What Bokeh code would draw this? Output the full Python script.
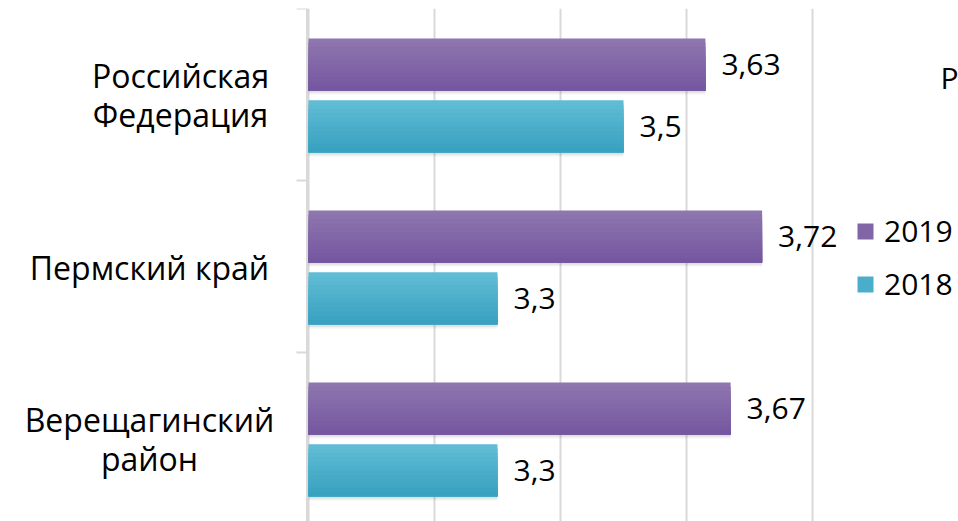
from bokeh.plotting import figure
from bokeh.models import (Range1d, FixedTicker, Legend, LegendItem,
                          ColumnDataSource, Span)
from bokeh.transform import dodge
from bokeh.core.properties import value
from bokeh.embed import file_html
from bokeh.resources import INLINE

# ---- data ----
categories = ["Российская\nФедерация", "Пермский край", "Верещагинский\nрайон"]
values_2019 = [3.63, 3.72, 3.67]
values_2018 = [3.5, 3.3, 3.3]
value_labels_2019 = ["3,63", "3,72", "3,67"]
value_labels_2018 = ["3,5", "3,3", "3,3"]
series_names = ["2019", "2018"]
x_ticks = [3.0, 3.2, 3.4, 3.6, 3.8]
extra_text = "Р"

FONT = "Open Sans"
PURPLE_TOP, PURPLE_BOTTOM = (142, 118, 175), (117, 87, 160)
BLUE_TOP, BLUE_BOTTOM = (96, 188, 213), (56, 162, 192)
GRID = "#D9D9D9"

W, H = 958, 521
axis_px = 308          # pixel position of the value axis origin
top_border = 8
band_px = 172.0
px_per_unit = 630.0
frame_h = H - top_border
x0 = x_ticks[0]


def px_to_x(px):
    return x0 + (px - axis_px) / px_per_unit


def mix(c1, c2, t):
    return "#%02x%02x%02x" % tuple(round(a + (b - a) * t) for a, b in zip(c1, c2))


centers = [i + 0.505 for i in range(len(categories))]
src = ColumnDataSource(dict(
    y=centers, v19=values_2019, v18=values_2018,
    l19=value_labels_2019, l18=value_labels_2018,
))

p = figure(width=W, height=H, output_backend="svg", toolbar_location=None,
           x_axis_location=None, y_axis_location=None,
           min_border_left=0, min_border_right=0,
           min_border_top=top_border, min_border_bottom=0,
           x_range=Range1d(px_to_x(0), px_to_x(W)),
           y_range=Range1d(frame_h / band_px, 0))
p.outline_line_color = None
p.background_fill_color = "white"
p.border_fill_color = "white"

# vertical grid lines
p.xgrid.ticker = FixedTicker(ticks=x_ticks)
p.xgrid.grid_line_color = GRID
p.xgrid.grid_line_width = 2
p.ygrid.grid_line_color = None

# category axis line and boundary ticks
p.add_layout(Span(location=x0 - 1.5 / px_per_unit, dimension="height",
                  line_color=GRID, line_width=2))
bounds = list(range(len(categories) + 1))
p.segment(x0=[px_to_x(axis_px - 12)] * len(bounds), x1=[x0 - 1.5 / px_per_unit] * len(bounds),
          y0=bounds, y1=bounds, line_color=GRID, line_width=2)

# category labels (lines centred within each block)
label_centers_px = [180, 149, 149]
line_gap = 39 / band_px
lab = dict(x=[], y=[], t=[])
for i, cat in enumerate(categories):
    lines = cat.split("\n")
    n = len(lines)
    for j, line in enumerate(lines):
        lab["x"].append(px_to_x(label_centers_px[i]))
        lab["y"].append(centers[i] + (j - (n - 1) / 2) * line_gap)
        lab["t"].append(line)
p.text(x="x", y="y", text="t", source=ColumnDataSource(lab),
       text_align="center", text_baseline="middle",
       text_font=value(FONT), text_font_size="32px", text_color="#000000")

bar_h = 52 / band_px
off = 0.18

# soft shadows
for dy, a in [(0.024, 0.05), (0.014, 0.07)]:
    p.hbar(y=dodge("y", -off + dy, range=p.y_range), right="v19", left=x0,
           height=bar_h, source=src, fill_color="black", fill_alpha=a, line_color=None)
    p.hbar(y=dodge("y", off + dy, range=p.y_range), right="v18", left=x0,
           height=bar_h, source=src, fill_color="black", fill_alpha=a, line_color=None)

# bars with a vertical gradient: nested layers, each reaching the bar's bottom edge
N = 12
step = bar_h / N
leg_r19 = leg_r18 = None
for k in range(N):
    t = k / (N - 1)
    h = bar_h - k * step
    dy = k * step / 2
    a = p.hbar(y=dodge("y", -off + dy, range=p.y_range), right="v19", left=x0,
               height=h, source=src,
               fill_color=mix(PURPLE_TOP, PURPLE_BOTTOM, t), line_color=None)
    b = p.hbar(y=dodge("y", off + dy, range=p.y_range), right="v18", left=x0,
               height=h, source=src,
               fill_color=mix(BLUE_TOP, BLUE_BOTTOM, t), line_color=None)
    if k == N // 2:
        leg_r19, leg_r18 = a, b

p.text(x="v19", y=dodge("y", -off, range=p.y_range), text="l19", source=src,
       x_offset=16, text_font=value(FONT), text_font_size="30px",
       text_baseline="middle", text_align="left", text_color="#000000")
p.text(x="v18", y=dodge("y", off, range=p.y_range), text="l18", source=src,
       x_offset=16, text_font=value(FONT), text_font_size="30px",
       text_baseline="middle", text_align="left", text_color="#000000")

legend = Legend(items=[LegendItem(label=series_names[0], renderers=[leg_r19]),
                       LegendItem(label=series_names[1], renderers=[leg_r18])],
                location=(547 + axis_px, 217), orientation="vertical",
                glyph_width=20, glyph_height=20, spacing=12, padding=0, margin=0,
                label_standoff=9, border_line_alpha=0, background_fill_alpha=0,
                label_text_font=FONT, label_text_font_size="30px",
                label_text_color="#000000")
p.add_layout(legend)

p.text(x=[px_to_x(940)], y=[(77 - top_border) / band_px], text=[extra_text],
       text_font=value(FONT), text_font_size="30px", text_baseline="middle",
       text_align="left", text_color="#000000")

open("out.html", "w").write(file_html(p, INLINE))
